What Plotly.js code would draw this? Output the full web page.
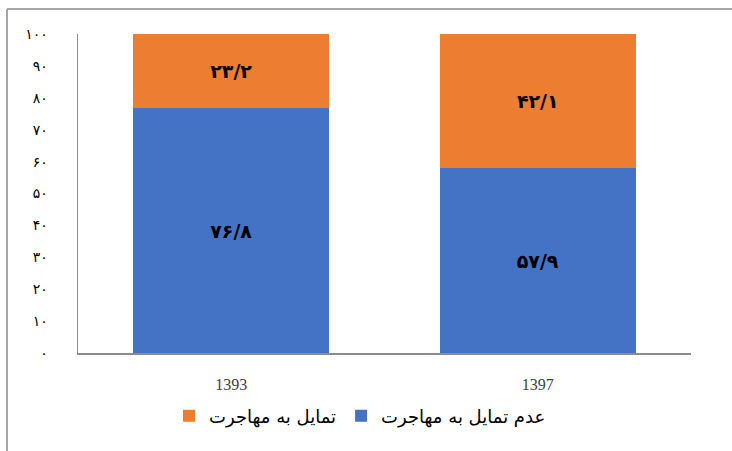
<!DOCTYPE html>
<html>
<head>
<meta charset="utf-8">
<script src="https://cdn.plot.ly/plotly-3.0.1.min.js"></script>
<style>html,body{margin:0;padding:0;background:#fff;}#chart{width:732px;height:451px;}</style>
</head>
<body>
<div id="chart"></div>
<script>
const categories = ["1393", "1397"];
const notWilling = [76.8, 57.9];
const willing = [23.2, 42.1];
const notWillingText = ["۷۶/۸", "۵۷/۹"];
const willingText = ["۲۳/۲", "۴۲/۱"];
const seriesNames = ["عدم تمایل به مهاجرت", "تمایل به مهاجرت"];
const yTickVals = [0, 10, 20, 30, 40, 50, 60, 70, 80, 90, 100];
const yTickText = ["۰", "۱۰", "۲۰", "۳۰", "۴۰", "۵۰", "۶۰", "۷۰", "۸۰", "۹۰", "۱۰۰"];

const W = 732, H = 451;
const m = {l: 78, r: 41, t: 34, b: 98};
const pw = W - m.l - m.r, ph = H - m.t - m.b;
const px = v => (v - m.l) / pw;
const py = v => (H - m.b - v) / ph;

const labelFont = {family: "DejaVu Sans", size: 19, color: "#000", weight: "bold"};

const data = [
  {type: "bar", x: categories, y: notWilling, name: seriesNames[0],
   marker: {color: "#4472C4"}, text: notWillingText, textposition: "inside",
   insidetextanchor: "middle", textfont: labelFont, width: 0.64, hoverinfo: "skip"},
  {type: "bar", x: categories, y: willing, name: seriesNames[1],
   marker: {color: "#ED7D31"}, text: willingText, textposition: "inside",
   insidetextanchor: "middle", textfont: labelFont, width: 0.64, hoverinfo: "skip"}
];

const layout = {
  width: W, height: H,
  margin: m,
  barmode: "stack",
  paper_bgcolor: "#fff", plot_bgcolor: "#fff",
  showlegend: true,
  legend: {orientation: "h", x: px(360), xanchor: "center", y: py(416), yanchor: "middle",
           traceorder: "reversed", font: {family: "DejaVu Sans", size: 18, color: "#000"},
           itemwidth: 30},
  xaxis: {type: "category", range: [-0.5, 1.5], showline: true, linecolor: "#8c8c8c", linewidth: 2,
          showgrid: false, zeroline: false, ticks: "", ticklabelstandoff: 16,
          tickfont: {family: "Liberation Serif, Times New Roman, serif", size: 16, color: "#404040"}},
  yaxis: {range: [0, 100], tickvals: yTickVals, ticktext: yTickText, showline: true,
          linecolor: "#8c8c8c", linewidth: 1.5, showgrid: false, zeroline: false, ticks: "",
          ticklabelstandoff: 26, tickfont: {family: "DejaVu Sans", size: 14, color: "#000"}},
  shapes: [
    {type: "line", xref: "paper", yref: "paper", x0: px(7), x1: px(733), y0: py(9), y1: py(9),
     line: {color: "#a6a6a6", width: 2}},
    {type: "line", xref: "paper", yref: "paper", x0: px(7), x1: px(7), y0: py(9), y1: py(452),
     line: {color: "#a6a6a6", width: 2}}
  ]
};

Plotly.newPlot("chart", data, layout, {displayModeBar: false, staticPlot: true});
</script>
</body>
</html>
